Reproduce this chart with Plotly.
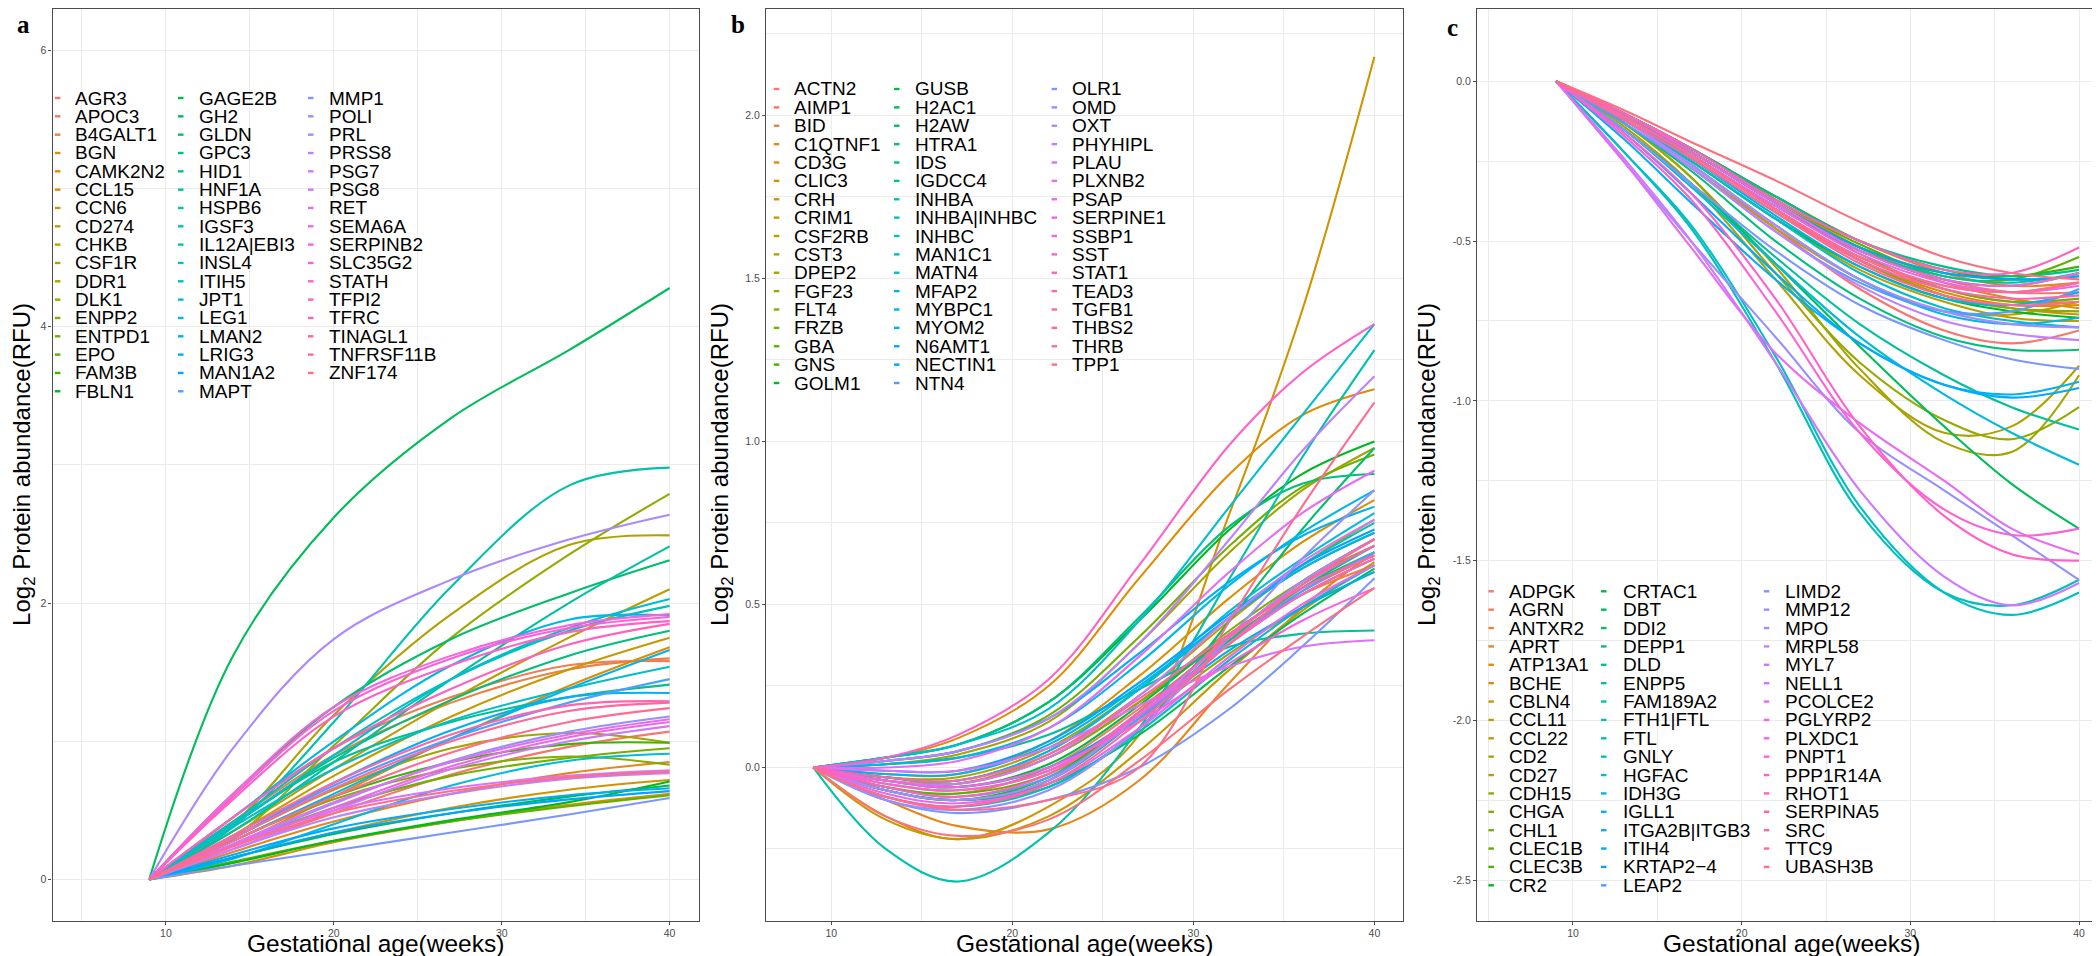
import math
import plotly.graph_objects as go

W, H = 2100, 956

# ---------------- data: panel a (increasing proteins) ----------------
A_GENES = ["AGR3", "APOC3", "B4GALT1", "BGN", "CAMK2N2", "CCL15", "CCN6", "CD274", "CHKB", "CSF1R",
           "DDR1", "DLK1", "ENPP2", "ENTPD1", "EPO", "FAM3B", "FBLN1", "GAGE2B", "GH2", "GLDN",
           "GPC3", "HID1", "HNF1A", "HSPB6", "IGSF3", "IL12A|EBI3", "INSL4", "ITIH5", "JPT1", "LEG1",
           "LMAN2", "LRIG3", "MAN1A2", "MAPT", "MMP1", "POLI", "PRL", "PRSS8", "PSG7", "PSG8",
           "RET", "SEMA6A", "SERPINB2", "SLC35G2", "STATH", "TFPI2", "TFRC", "TINAGL1", "TNFRSF11B", "ZNF174"]
A_WEEKS = [9, 14, 20, 27, 34, 40]
A_W09 = [0, 0, 0, 0, 0, 0, 0, 0, 0, 0, 0, 0, 0, 0, 0, 0, 0, 0, 0, 0, 0, 0, 0, 0, 0,
         0, 0, 0, 0, 0, 0, 0, 0, 0, 0, 0, 0, 0, 0, 0, 0, 0, 0, 0, 0, 0, 0, 0, 0, 0]
A_W14 = [0.22, 0.45, 0.42, 0.20, 0.25, 0.10, 0.16, 0.32, 0.35, 0.40,
         0.30, 0.30, 0.28, 0.25, 0.13, 0.28, 0.12, 0.16, 1.62, 0.62,
         0.40, 0.40, 0.35, 0.38, 0.42, 0.38, 0.40, 0.15, 0.45, 0.28,
         0.30, 0.18, 0.16, 0.30, 0.10, 0.25, 0.95, 0.22, 0.22, 0.25,
         0.26, 0.24, 0.62, 0.60, 0.58, 0.45, 0.32, 0.30, 0.28, 0.24]
A_W20 = [0.48, 0.95, 0.90, 0.42, 0.60, 0.27, 0.34, 0.75, 0.80, 1.19,
         0.65, 0.97, 0.58, 0.52, 0.28, 0.60, 0.28, 0.33, 2.62, 1.25,
         0.88, 0.85, 0.85, 1.14, 0.95, 0.80, 0.90, 0.40, 1.00, 0.62,
         0.70, 0.37, 0.34, 0.68, 0.21, 0.55, 1.74, 0.45, 0.50, 0.50,
         0.56, 0.52, 1.25, 1.22, 1.18, 0.95, 0.70, 0.66, 0.60, 0.48]
A_W27 = [0.76, 1.32, 1.28, 0.62, 1.02, 0.42, 0.52, 1.18, 1.30, 1.92,
         0.95, 1.75, 0.80, 0.75, 0.42, 0.85, 0.43, 0.48, 3.34, 1.74,
         1.30, 1.14, 1.45, 2.12, 1.45, 1.15, 1.45, 0.68, 1.55, 1.02,
         1.08, 0.51, 0.48, 1.02, 0.34, 0.86, 2.17, 0.62, 0.80, 0.66,
         0.85, 0.82, 1.62, 1.60, 1.55, 1.38, 1.05, 1.00, 0.92, 0.64]
A_W34 = [0.96, 1.55, 1.52, 0.77, 1.40, 0.54, 0.65, 1.52, 1.75, 2.42,
         1.06, 2.35, 0.89, 0.88, 0.53, 0.98, 0.56, 0.60, 3.83, 2.07,
         1.62, 1.32, 2.00, 2.85, 1.80, 1.38, 1.82, 0.86, 1.88, 1.38,
         1.32, 0.61, 0.58, 1.28, 0.47, 1.07, 2.46, 0.73, 1.00, 0.75,
         1.05, 1.03, 1.84, 1.82, 1.79, 1.70, 1.26, 1.22, 1.14, 0.74]
A_W40 = [1.07, 1.58, 1.60, 0.85, 1.68, 0.62, 0.72, 1.75, 2.10, 2.49,
         0.99, 2.79, 0.83, 0.95, 0.61, 0.99, 0.71, 0.68, 4.28, 2.31,
         1.80, 1.41, 2.41, 2.98, 1.98, 1.54, 2.03, 0.91, 1.91, 1.66,
         1.35, 0.66, 0.64, 1.45, 0.59, 1.18, 2.64, 0.77, 1.11, 0.79,
         1.16, 1.14, 1.92, 1.90, 1.87, 1.85, 1.29, 1.28, 1.24, 0.78]

# ---------------- data: panel b (late-rising proteins) ----------------
B_GENES = ["ACTN2", "AIMP1", "BID", "C1QTNF1", "CD3G", "CLIC3", "CRH", "CRIM1", "CSF2RB", "CST3",
           "DPEP2", "FGF23", "FLT4", "FRZB", "GBA", "GNS", "GOLM1", "GUSB", "H2AC1", "H2AW",
           "HTRA1", "IDS", "IGDCC4", "INHBA", "INHBA|INHBC", "INHBC", "MAN1C1", "MATN4", "MFAP2", "MYBPC1",
           "MYOM2", "N6AMT1", "NECTIN1", "NTN4", "OLR1", "OMD", "OXT", "PHYHIPL", "PLAU", "PLXNB2",
           "PSAP", "SERPINE1", "SSBP1", "SST", "STAT1", "TEAD3", "TGFB1", "THBS2", "THRB", "TPP1"]
BC_WEEKS = [9, 13, 17, 22, 27, 32, 36, 40]
B_W09 = [0, 0, 0, 0, 0, 0, 0, 0, 0, 0, 0, 0, 0, 0, 0, 0, 0, 0, 0, 0, 0, 0, 0, 0, 0,
         0, 0, 0, 0, 0, 0, 0, 0, 0, 0, 0, 0, 0, 0, 0, 0, 0, 0, 0, 0, 0, 0, 0, 0, 0]
B_W13 = [-0.09, -0.06, -0.03, -0.10, 0.03, -0.02, -0.15, -0.16, -0.04, -0.03,
         0.01, -0.05, -0.04, 0.02, -0.06, -0.07, 0.03, -0.04, -0.07, -0.07,
         0.03, -0.07, 0.01, -0.25, -0.03, -0.09, 0.03, -0.03, 0.01, -0.02,
         0.02, -0.04, -0.01, -0.06, -0.10, -0.10, -0.07, 0.02, -0.04, -0.01,
         0.00, -0.08, -0.04, -0.05, 0.03, -0.06, -0.03, -0.09, -0.09, -0.15]
B_W17 = [-0.12, -0.08, -0.05, -0.18, 0.09, -0.02, -0.22, -0.22, -0.05, -0.03,
         0.04, -0.07, -0.05, 0.05, -0.08, -0.10, 0.07, -0.06, -0.10, -0.10,
         0.07, -0.10, 0.03, -0.35, -0.04, -0.12, 0.07, -0.04, 0.03, -0.02,
         0.05, -0.06, -0.01, -0.09, -0.14, -0.13, -0.10, 0.05, -0.05, -0.01,
         0.02, -0.11, -0.06, -0.07, 0.10, -0.09, -0.04, -0.12, -0.13, -0.21]
B_W22 = [-0.04, 0.00, 0.03, -0.19, 0.25, 0.08, -0.12, -0.15, 0.04, 0.06,
         0.14, -0.01, 0.03, 0.16, -0.02, -0.03, 0.20, 0.01, -0.05, -0.06,
         0.20, -0.04, 0.10, -0.20, 0.05, -0.06, 0.18, 0.05, 0.12, 0.07,
         0.15, 0.00, 0.08, -0.03, -0.10, -0.07, -0.04, 0.15, 0.03, 0.06,
         0.12, -0.05, 0.00, -0.01, 0.27, -0.02, 0.04, -0.05, -0.10, -0.16]
B_W27 = [0.17, 0.18, 0.20, -0.04, 0.58, 0.28, 0.10, 0.05, 0.22, 0.24,
         0.38, 0.15, 0.20, 0.40, 0.16, 0.17, 0.45, 0.19, 0.10, 0.12,
         0.46, 0.15, 0.24, 0.12, 0.24, 0.11, 0.45, 0.24, 0.32, 0.25,
         0.35, 0.16, 0.26, 0.15, 0.00, 0.12, 0.16, 0.38, 0.22, 0.19,
         0.34, 0.12, 0.14, 0.16, 0.62, 0.17, 0.21, 0.14, 0.00, 0.02]
B_W32 = [0.40, 0.39, 0.40, 0.26, 0.90, 0.52, 0.78, 0.30, 0.45, 0.46,
         0.66, 0.35, 0.42, 0.68, 0.38, 0.40, 0.73, 0.41, 0.31, 0.45,
         0.74, 0.39, 0.37, 0.58, 0.46, 0.33, 0.80, 0.48, 0.56, 0.46,
         0.57, 0.36, 0.47, 0.38, 0.18, 0.40, 0.40, 0.70, 0.46, 0.31,
         0.60, 0.34, 0.32, 0.38, 0.99, 0.40, 0.41, 0.38, 0.45, 0.24]
B_W36 = [0.57, 0.54, 0.53, 0.49, 1.08, 0.69, 1.40, 0.48, 0.62, 0.61,
         0.85, 0.49, 0.57, 0.86, 0.53, 0.57, 0.90, 0.55, 0.47, 0.73,
         0.87, 0.55, 0.41, 0.95, 0.62, 0.49, 1.08, 0.64, 0.72, 0.61,
         0.71, 0.49, 0.62, 0.54, 0.37, 0.64, 0.57, 0.97, 0.63, 0.37,
         0.78, 0.50, 0.45, 0.53, 1.21, 0.56, 0.55, 0.56, 0.80, 0.40]
B_W40 = [0.70, 0.65, 0.62, 0.66, 1.16, 0.82, 2.18, 0.63, 0.76, 0.72,
         0.98, 0.60, 0.68, 0.96, 0.64, 0.70, 1.00, 0.66, 0.61, 0.98,
         0.90, 0.68, 0.42, 1.28, 0.75, 0.62, 1.36, 0.78, 0.85, 0.72,
         0.80, 0.60, 0.73, 0.66, 0.58, 0.85, 0.70, 1.20, 0.76, 0.39,
         0.91, 0.62, 0.55, 0.64, 1.36, 0.68, 0.65, 0.70, 1.12, 0.55]

# ---------------- data: panel c (decreasing proteins) ----------------
C_GENES = ["ADPGK", "AGRN", "ANTXR2", "APRT", "ATP13A1", "BCHE", "CBLN4", "CCL11", "CCL22", "CD2",
           "CD27", "CDH15", "CHGA", "CHL1", "CLEC1B", "CLEC3B", "CR2", "CRTAC1", "DBT", "DDI2",
           "DEPP1", "DLD", "ENPP5", "FAM189A2", "FTH1|FTL", "FTL", "GNLY", "HGFAC", "IDH3G", "IGLL1",
           "ITGA2B|ITGB3", "ITIH4", "KRTAP2\u22124", "LEAP2", "LIMD2", "MMP12", "MPO", "MRPL58", "MYL7", "NELL1",
           "PCOLCE2", "PGLYRP2", "PLXDC1", "PNPT1", "PPP1R14A", "RHOT1", "SERPINA5", "SRC", "TTC9", "UBASH3B"]
C_W09 = [0, 0, 0, 0, 0, 0, 0, 0, 0, 0, 0, 0, 0, 0, 0, 0, 0, 0, 0, 0, 0, 0, 0, 0, 0,
         0, 0, 0, 0, 0, 0, 0, 0, 0, 0, 0, 0, 0, 0, 0, 0, 0, 0, 0, 0, 0, 0, 0, 0, 0]
C_W13 = [-0.12, -0.10, -0.11, -0.10, -0.12, -0.10, -0.11, -0.13, -0.12, -0.14,
         -0.13, -0.13, -0.11, -0.10, -0.10, -0.11, -0.12, -0.10, -0.15, -0.11,
         -0.13, -0.10, -0.15, -0.11, -0.22, -0.22, -0.12, -0.15, -0.12, -0.11,
         -0.18, -0.16, -0.10, -0.13, -0.15, -0.25, -0.12, -0.12, -0.24, -0.11,
         -0.25, -0.11, -0.10, -0.17, -0.16, -0.10, -0.11, -0.12, -0.11, -0.09]
C_W17 = [-0.26, -0.22, -0.23, -0.21, -0.24, -0.21, -0.23, -0.27, -0.25, -0.32,
         -0.30, -0.30, -0.23, -0.22, -0.21, -0.22, -0.25, -0.21, -0.32, -0.22,
         -0.28, -0.21, -0.32, -0.23, -0.46, -0.45, -0.25, -0.33, -0.26, -0.24,
         -0.38, -0.35, -0.22, -0.27, -0.32, -0.50, -0.26, -0.27, -0.50, -0.23,
         -0.52, -0.23, -0.22, -0.37, -0.35, -0.21, -0.23, -0.24, -0.23, -0.19]
C_W22 = [-0.46, -0.38, -0.40, -0.36, -0.41, -0.37, -0.40, -0.46, -0.43, -0.62,
         -0.58, -0.60, -0.40, -0.38, -0.37, -0.38, -0.43, -0.36, -0.57, -0.38,
         -0.50, -0.36, -0.55, -0.39, -0.88, -0.86, -0.43, -0.57, -0.45, -0.42,
         -0.62, -0.60, -0.38, -0.47, -0.53, -0.80, -0.45, -0.47, -0.88, -0.40,
         -0.85, -0.39, -0.38, -0.72, -0.68, -0.37, -0.40, -0.41, -0.40, -0.31]
C_W27 = [-0.65, -0.52, -0.55, -0.50, -0.56, -0.52, -0.56, -0.62, -0.59, -0.92,
         -0.90, -0.88, -0.56, -0.54, -0.51, -0.52, -0.58, -0.50, -0.83, -0.53,
         -0.68, -0.50, -0.76, -0.53, -1.35, -1.33, -0.60, -0.80, -0.62, -0.58,
         -0.82, -0.82, -0.52, -0.63, -0.70, -1.10, -0.62, -0.64, -1.28, -0.55,
         -1.07, -0.54, -0.53, -1.10, -1.08, -0.50, -0.56, -0.57, -0.55, -0.44]
C_W32 = [-0.78, -0.62, -0.65, -0.60, -0.66, -0.63, -0.67, -0.72, -0.69, -1.10,
         -1.13, -1.06, -0.67, -0.65, -0.61, -0.60, -0.68, -0.59, -1.08, -0.62,
         -0.80, -0.58, -0.92, -0.61, -1.60, -1.60, -0.71, -0.98, -0.73, -0.68,
         -0.95, -0.95, -0.60, -0.72, -0.81, -1.28, -0.72, -0.75, -1.55, -0.64,
         -1.25, -0.63, -0.62, -1.34, -1.36, -0.59, -0.65, -0.67, -0.64, -0.55]
C_W36 = [-0.82, -0.66, -0.69, -0.64, -0.70, -0.68, -0.71, -0.73, -0.74, -1.08,
         -1.16, -1.12, -0.71, -0.69, -0.62, -0.61, -0.72, -0.62, -1.26, -0.64,
         -0.84, -0.61, -1.02, -0.63, -1.64, -1.67, -0.75, -1.10, -0.76, -0.70,
         -0.98, -0.99, -0.62, -0.72, -0.87, -1.42, -0.76, -0.79, -1.64, -0.66,
         -1.40, -0.66, -0.64, -1.42, -1.48, -0.60, -0.68, -0.70, -0.66, -0.60]
C_W40 = [-0.78, -0.66, -0.69, -0.63, -0.70, -0.71, -0.73, -0.69, -0.75, -0.89,
         -0.92, -1.02, -0.72, -0.68, -0.55, -0.58, -0.74, -0.61, -1.40, -0.60,
         -0.84, -0.59, -1.09, -0.60, -1.56, -1.60, -0.77, -1.20, -0.74, -0.66,
         -0.94, -0.96, -0.61, -0.65, -0.90, -1.56, -0.77, -0.81, -1.57, -0.63,
         -1.48, -0.64, -0.60, -1.40, -1.50, -0.52, -0.67, -0.69, -0.63, -0.62]

# ---------------- tick labels / titles ----------------
X_TICKS = [10, 20, 30, 40]
X_TICKTEXT = ["10", "20", "30", "40"]
X_MINOR = [5, 15, 25, 35]
A_YTICKS = [0, 2, 4, 6]
A_YTICKTEXT = ["0", "2", "4", "6"]
A_YMINOR = [1, 3, 5]
B_YTICKS = [0.0, 0.5, 1.0, 1.5, 2.0]
B_YTICKTEXT = ["0.0", "0.5", "1.0", "1.5", "2.0"]
B_YMINOR = [-0.25, 0.25, 0.75, 1.25, 1.75, 2.25]
C_YTICKS = [0.0, -0.5, -1.0, -1.5, -2.0, -2.5]
C_YTICKTEXT = ["0.0", "-0.5", "-1.0", "-1.5", "-2.0", "-2.5"]
C_YMINOR = [-0.25, -0.75, -1.25, -1.75, -2.25]

X_TITLE = "Gestational age(weeks)"
Y_TITLE = "Log<sub>2</sub> Protein abundance(RFU)"
PANEL_LABELS = ["a", "b", "c"]


# ggplot2 default hue palette (hcl, c=100, l=65)
def hue_colors(n):
    cols = []
    Xn, Yn, Zn = 95.047, 100.0, 108.883
    un = 4 * Xn / (Xn + 15 * Yn + 3 * Zn)
    vn = 9 * Yn / (Xn + 15 * Yn + 3 * Zn)
    L, C = 65.0, 100.0
    for k in range(n):
        h = math.radians(15 + 360.0 * k / n)
        U, V = C * math.cos(h), C * math.sin(h)
        Y = Yn * ((L + 16) / 116) ** 3
        u = U / (13 * L) + un
        v = V / (13 * L) + vn
        X = 9.0 * Y * u / (4 * v)
        Z = -X / 3 - 5 * Y + 3 * Y / v
        x, y, z = X / 100, Y / 100, Z / 100
        rgb = [3.240479 * x - 1.537150 * y - 0.498535 * z,
               -0.969256 * x + 1.875992 * y + 0.041556 * z,
               0.055648 * x - 0.204043 * y + 1.057311 * z]
        out = []
        for c in rgb:
            c = 1.055 * c ** (1 / 2.4) - 0.055 if c > 0.0031308 else 12.92 * c
            out.append(int(round(min(max(c, 0), 1) * 255)))
        cols.append("#%02X%02X%02X" % tuple(out))
    return cols


FONT = "Liberation Sans, Arial, sans-serif"
GRID = "#EBEBEB"
BORDER = "#4D4D4D"
PLOT_TOP, PLOT_BOTTOM = 0.8, 913.0

panels = [
    dict(genes=A_GENES, weeks=A_WEEKS, cols=[A_W09, A_W14, A_W20, A_W27, A_W34, A_W40],
         xa="x", ya="y", dom=(44.6, 691), xr=[3.25, 41.75], yr=[-0.30, 6.30],
         yt=A_YTICKS, ytt=A_YTICKTEXT, ym=A_YMINOR, ytitle_x=16.0,
         leg_box=(44.6, 431, 45, 393), leg_cols=[(46.9, 64.7), (170.0, 188.8), (300.0, 318.7)],
         leg_y0=90.0, leg_dy=18.33, lab=(15, 16.5)),
    dict(genes=B_GENES, weeks=BC_WEEKS, cols=[B_W09, B_W13, B_W17, B_W22, B_W27, B_W32, B_W36, B_W40],
         xa="x2", ya="y2", dom=(758, 1395), xr=[6.39, 41.58], yr=[-0.471, 2.327],
         yt=B_YTICKS, ytt=B_YTICKTEXT, ym=B_YMINOR, ytitle_x=714.0,
         leg_box=(758, 1158, 36, 384), leg_cols=[(765.8, 784.1), (886.0, 904.9), (1043.6, 1062.0)],
         leg_y0=81.0, leg_dy=18.375, lab=(730, 16.5)),
    dict(genes=C_GENES, weeks=BC_WEEKS, cols=[C_W09, C_W13, C_W17, C_W22, C_W27, C_W32, C_W36, C_W40],
         xa="x3", ya="y3", dom=(1469, 2097), xr=[4.31, 41.54], yr=[-2.628, 0.227],
         yt=C_YTICKS, ytt=C_YTICKTEXT, ym=C_YMINOR, ytitle_x=1421.0,
         leg_box=(1469, 1873, 538, 887), leg_cols=[(1480.4, 1499.1), (1593.0, 1613.0), (1755.8, 1775.0)],
         leg_y0=583.3, leg_dy=18.375, lab=(1444.5, 19.0)),
]

fig = go.Figure()
shapes, annotations = [], []
layout_axes = {}

for pi, p in enumerate(panels):
    genes = p["genes"]
    colors = hue_colors(len(genes))
    for i, g in enumerate(genes):
        fig.add_trace(go.Scatter(
            x=p["weeks"], y=[col[i] for col in p["cols"]],
            mode="lines", name=g, showlegend=False,
            line=dict(color=colors[i], width=2.1, shape="spline", smoothing=1.0),
            xaxis=p["xa"], yaxis=p["ya"]))

    # legend background (covers the grid like ggplot's legend box)
    x0, x1, y0, y1 = p["leg_box"]
    shapes.append(dict(type="rect", xref="paper", yref="paper",
                       x0=x0 / W, x1=x1 / W, y0=1 - y1 / H, y1=1 - y0 / H,
                       fillcolor="white", line=dict(width=0), layer="between"))
    for i, g in enumerate(genes):
        c, r = divmod(i, 17)
        kx, tx = p["leg_cols"][c]
        yy = p["leg_y0"] + r * p["leg_dy"]
        shapes.append(dict(type="line", xref="paper", yref="paper",
                           x0=kx / W, x1=(kx + 5.5) / W, y0=1 - yy / H, y1=1 - yy / H,
                           line=dict(color=colors[i], width=2.4), layer="above"))
        annotations.append(dict(text=g, xref="paper", yref="paper", x=tx / W, y=1 - yy / H,
                                xanchor="left", yanchor="middle", showarrow=False,
                                font=dict(family=FONT, size=19, color="black")))

    # panel letter
    lx, ly = p["lab"]
    annotations.append(dict(text="<b>%s</b>" % PANEL_LABELS[pi], xref="paper", yref="paper",
                            x=lx / W, y=1 - ly / H, xanchor="center", yanchor="middle",
                            showarrow=False,
                            font=dict(family="Liberation Serif, Times New Roman, serif", size=25,
                                      color="black")))

    d0, d1 = p["dom"]
    # axis titles
    annotations.append(dict(text=X_TITLE, xref="paper", yref="paper",
                            x=(d0 + d1) / 2 / W, y=1 - 935.5 / H, xanchor="center", yanchor="middle",
                            showarrow=False, font=dict(family=FONT, size=24.5, color="black")))
    annotations.append(dict(text=Y_TITLE, xref="paper", yref="paper", textangle=-90,
                            x=p["ytitle_x"] / W, y=1 - (PLOT_TOP + PLOT_BOTTOM) / 2 / H,
                            xanchor="center", yanchor="middle",
                            showarrow=False, font=dict(family=FONT, size=24, color="black")))

    suffix = "" if pi == 0 else str(pi + 1)
    common = dict(showline=True, mirror=True, linecolor=BORDER, linewidth=1.3,
                  ticks="outside", ticklen=3, tickwidth=1, tickcolor=BORDER,
                  tickfont=dict(family=FONT, size=10.5, color="#4D4D4D"),
                  showgrid=True, gridcolor=GRID, gridwidth=1.2, zeroline=False,
                  tickmode="array", automargin=False)
    layout_axes["xaxis" + suffix] = dict(
        common, domain=[d0 / W, d1 / W], range=p["xr"], anchor="y" + suffix,
        tickvals=X_TICKS, ticktext=X_TICKTEXT, ticklabelstandoff=-1,
        minor=dict(tickmode="array", tickvals=X_MINOR, showgrid=True, gridcolor=GRID,
                   gridwidth=0.8, ticklen=0))
    layout_axes["yaxis" + suffix] = dict(
        common, domain=[(H - PLOT_BOTTOM) / H, (H - PLOT_TOP) / H], range=p["yr"], anchor="x" + suffix,
        tickvals=p["yt"], ticktext=p["ytt"],
        minor=dict(tickmode="array", tickvals=p["ym"], showgrid=True, gridcolor=GRID,
                   gridwidth=0.8, ticklen=0))

fig.update_layout(
    width=W, height=H, margin=dict(l=0, r=0, t=0, b=0),
    paper_bgcolor="white", plot_bgcolor="white", template="none",
    showlegend=False, shapes=shapes, annotations=annotations, **layout_axes)

fig.write_html("out.html")
